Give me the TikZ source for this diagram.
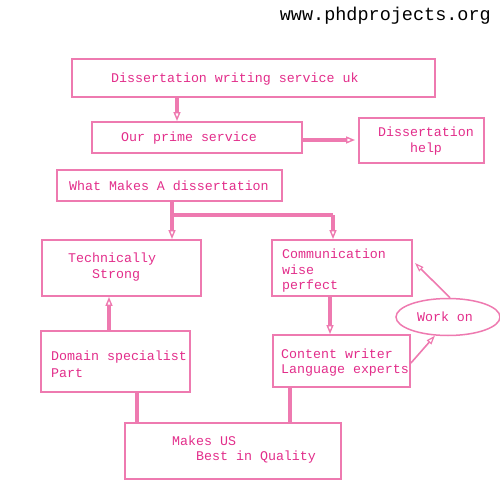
\documentclass[tikz,border=0pt]{standalone}
\usepackage{fontspec}
\setmonofont{Liberation Mono}
\usetikzlibrary{arrows.meta,shapes.geometric}
\definecolor{pk}{RGB}{238,122,176}
\definecolor{pktext}{RGB}{226,45,138}
\tikzset{
  box/.style={draw=pk,line width=1.9pt,rectangle,inner sep=0pt},
  txt/.style={text=pktext,font=\ttfamily\fontsize{13.3}{16}\selectfont,anchor=west,inner sep=0pt,align=left},
  conn/.style={draw=pk,line width=3.4pt},
  arr/.style={conn,-{Triangle[open,length=9pt,width=7pt,line width=1.4pt]}},
  thinarr/.style={draw=pk,line width=1.6pt,-{Triangle[open,length=9pt,width=6pt,line width=1.2pt]}}
}
\begin{document}
\begin{tikzpicture}[x=1pt,y=-1pt]
\useasboundingbox (0,0) rectangle (500,500);
\node[anchor=east,inner sep=0pt,font=\ttfamily\fontsize{18.5}{20}\selectfont] (url) at (491,16) {www.phdprojects.org};
% boxes
\node[box,minimum width=363pt,minimum height=38pt] (b1) at (253.5,78) {};
\node[box,minimum width=210pt,minimum height=31pt] (b2) at (197,137.5) {};
\node[box,minimum width=125pt,minimum height=45pt] (b3) at (421.5,140.5) {};
\node[box,minimum width=225pt,minimum height=31pt] (b4) at (169.5,185.5) {};
\node[box,minimum width=159pt,minimum height=56pt] (b5) at (121.5,268) {};
\node[box,minimum width=140pt,minimum height=56pt] (b6) at (342,268) {};
\node[box,minimum width=149pt,minimum height=61pt] (b7) at (115.5,361.5) {};
\node[box,minimum width=137pt,minimum height=52pt] (b8) at (341.5,361) {};
\node[box,minimum width=216pt,minimum height=56pt] (b9) at (233,451) {};
\node[draw=pk,line width=1.5pt,ellipse,minimum width=104pt,minimum height=37pt,inner sep=0pt] (e1) at (448,317) {};
% texts
\node[txt] (t1) at (111,79) {Dissertation writing service uk};
\node[txt] (t2) at (121,138) {Our prime service};
\node[txt,anchor=center,align=center] (t3) at (426,141) {Dissertation\\help};
\node[txt] (t4) at (69,186) {What Makes A dissertation};
\node[txt] (t5a) at (68,259) {Technically};
\node[txt] (t5b) at (92,275) {Strong};
\node[txt] (t6a) at (282,254) {Communication};
\node[txt] (t6b) at (282,270) {wise};
\node[txt] (t6c) at (282,286) {perfect};
\node[txt] (t7a) at (51,357) {Domain specialist};
\node[txt] (t7b) at (51,373) {Part};
\node[txt] (t8a) at (281,354) {Content writer};
\node[txt] (t8b) at (281,370) {Language experts};
\node[txt] (t9a) at (172,441) {Makes US};
\node[txt] (t9b) at (196,457) {Best in Quality};
\node[txt,anchor=center] (te) at (445,317) {Work on};
% connectors
\coordinate (j1) at (172,215);
\coordinate (j2) at (333,215);
\draw[arr] (b1.south -| 177,0) -- (b2.north -| 177,0);
\draw[arr] (b2.east |- 0,140) -- ([xshift=-3pt]b3.west |- 0,140);
\draw[conn] (b4.south -| j1) -- (j1) -- (j2);
\draw[arr] (j1) -- (b5.north -| j1);
\draw[arr] (j2) -- (b6.north -| j2);
\draw[arr] (b7.north -| 109,0) -- (b5.south -| 109,0);
\draw[arr] (b6.south -| 330,0) -- (b8.north -| 330,0);
\draw[conn] (b7.south -| 137,0) -- (b9.north -| 137,0);
\draw[conn] (b8.south -| 290,0) -- (b9.north -| 290,0);
\draw[thinarr] (b8.east |- 0,363) -- (e1.-125);
\draw[thinarr] (e1.north) ++(2,0) -- (415,263);
\end{tikzpicture}
\end{document}
